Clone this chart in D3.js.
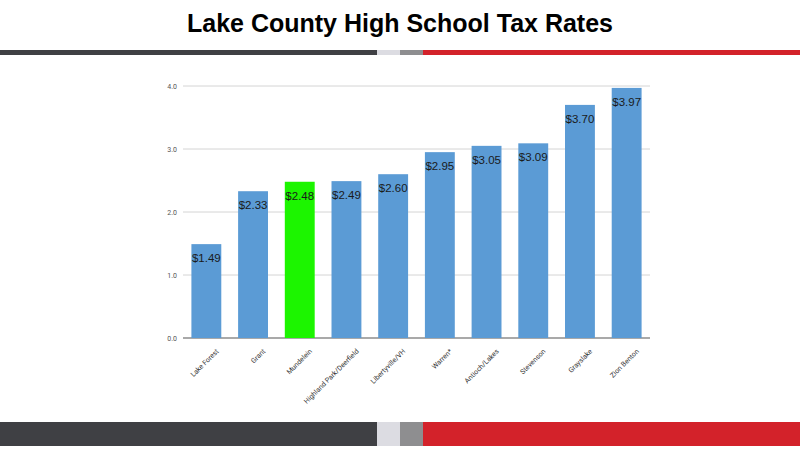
<!DOCTYPE html>
<html><head><meta charset="utf-8">
<script src="https://cdn.jsdelivr.net/npm/d3@7"></script>
<style>body{margin:0;background:#fff}svg{display:block}</style>
</head><body>
<svg id="c" width="800" height="463"></svg>
<script>
// data
const districts = ["Lake Forest","Grant","Mundelein","Highland Park/Deerfield","Libertyville/VH","Warren*","Antioch/Lakes","Stevenson","Grayslake","Zion Benton"];
const rates = [1.49,2.33,2.48,2.49,2.60,2.95,3.05,3.09,3.70,3.97];
const yTicks = [0,1,2,3,4];
const highlight = "Mundelein";

const svg = d3.select("#c");

// title
svg.append("text").attr("x",400).attr("y",32).attr("text-anchor","middle")
  .attr("font-family","Liberation Sans, Arial, sans-serif").attr("font-weight","bold")
  .attr("font-size",25).text("Lake County High School Tax Rates");

// decorative stripes (top + bottom)
function stripe(y,h){
  const segs=[[0,377,"#3f4044"],[377,400,"#dcdce2"],[400,423,"#8e8e90"],[423,800,"#d3222a"]];
  segs.forEach(s=>svg.append("rect").attr("x",s[0]).attr("y",y).attr("width",s[1]-s[0]).attr("height",h).attr("fill",s[2]));
}
stripe(50,5);
stripe(422,24);

const x = d3.scaleBand().domain(districts).range([183,650]).paddingInner(0.36).paddingOuter(0.18);
const y = d3.scaleLinear().domain([0,4]).range([338,86]);

// gridlines
svg.append("g").selectAll("line").data(yTicks).join("line")
  .attr("x1",183).attr("x2",650).attr("y1",d=>y(d)).attr("y2",d=>y(d))
  .attr("stroke",d=>d===0?"#555":"#d4d4d4").attr("stroke-width",d=>d===0?1.2:1);

const yAxis = svg.append("g").attr("transform","translate(183,0)")
  .call(d3.axisLeft(y).tickValues(yTicks).tickSize(0).tickPadding(6));
yAxis.select(".domain").remove();
yAxis.selectAll("text").attr("font-size",7).attr("fill","#555").attr("font-family","Roboto, sans-serif");

// bars
svg.append("g").selectAll("rect").data(districts).join("rect")
  .attr("x",d=>x(d)).attr("width",x.bandwidth())
  .attr("y",(d,i)=>y(rates[i])).attr("height",(d,i)=>y(0)-y(rates[i]))
  .attr("fill",d=>d===highlight?"#1cf500":"#5b9bd5");

// value labels
svg.append("g").selectAll("text").data(districts).join("text")
  .attr("x",d=>x(d)+x.bandwidth()/2).attr("y",(d,i)=>y(rates[i])+18)
  .attr("text-anchor","middle").attr("font-size",11.5).attr("fill","#1a1a1a")
  .attr("font-family","Liberation Sans, Arial, sans-serif")
  .text((d,i)=>"$"+rates[i].toFixed(2));

// x axis labels
const xAxis = svg.append("g").attr("transform","translate(0,338)")
  .call(d3.axisBottom(x).tickSize(0).tickPadding(6));
xAxis.select(".domain").remove();
xAxis.selectAll("text").attr("font-size",7).attr("fill","#333").attr("font-family","Roboto, sans-serif")
  .attr("text-anchor","end").attr("transform","translate(5,6) rotate(-45)");
</script>
</body></html>
